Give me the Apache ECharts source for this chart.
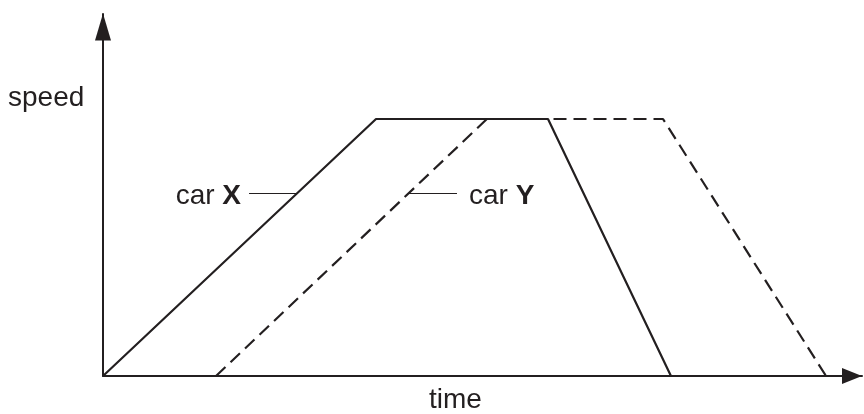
<!DOCTYPE html>
<html>
<head>
<meta charset="utf-8">
<script src="https://cdn.jsdelivr.net/npm/echarts@6/dist/echarts.min.js"></script>
<style>
  html, body { margin: 0; padding: 0; background: #fff; }
  #chart { width: 864px; height: 414px; }
</style>
</head>
<body>
<div id="chart"></div>
<script>
// time / speed in arbitrary units (graph has no scale)
var carXTime = [0, 35.97, 58.63, 74.83];
var carXSpeed = [0, 71.0, 71.0, 0];
var carYTime = [14.89, 50.59, 73.78, 95.26];
var carYSpeed = [0, 71.0, 71.0, 0];
// leader lines for the labels: [time start, time end, speed]
var leaderX = [19.24, 25.56, 50.55];
var leaderY = [40.18, 46.64, 50.55];

var ink = '#231f20';

var pairs = function (xs, ys) {
    var out = [];
    for (var i = 0; i < xs.length; i++) {
        out.push([xs[i], ys[i]]);
    }
    return out;
};

var leader = function (l, text, pos, gap) {
    return {
        silent: true,
        symbol: ['none', 'none'],
        lineStyle: { color: ink, width: 1, type: 'solid' },
        label: {
            show: true,
            position: pos,
            distance: gap,
            offset: [0, 3],
            formatter: text,
            color: ink,
            fontFamily: 'Liberation Sans',
            fontSize: 28,
            rich: {
                b: { fontWeight: 'bold', fontSize: 28, fontFamily: 'Liberation Sans', color: ink }
            }
        },
        data: [[{ coord: [l[0], l[2]] }, { coord: [l[1], l[2]] }]]
    };
};

var myChart = echarts.init(document.getElementById('chart'));
var option = {
    animation: false,
    grid: { left: 103, right: 2, top: 14, bottom: 38 },
    xAxis: {
        type: 'value',
        min: 0,
        max: 100,
        axisLine: {
            show: true,
            symbol: ['none', 'triangle'],
            symbolSize: [16, 20],
            symbolOffset: [0, -10],
            lineStyle: { color: ink, width: 2 }
        },
        axisTick: { show: false },
        axisLabel: { show: false },
        splitLine: { show: false }
    },
    yAxis: {
        type: 'value',
        min: 0,
        max: 100,
        axisLine: {
            show: true,
            symbol: ['none', 'triangle'],
            symbolSize: [16, 27],
            symbolOffset: [0, -13],
            lineStyle: { color: ink, width: 2 }
        },
        axisTick: { show: false },
        axisLabel: { show: false },
        splitLine: { show: false }
    },
    graphic: [
        {
            type: 'text', left: 8, top: 84,
            style: { text: 'speed', fill: ink, font: '28px "Liberation Sans"' }
        },
        {
            type: 'text', left: 429, top: 386,
            style: { text: 'time', fill: ink, font: '28px "Liberation Sans"' }
        }
    ],
    series: [
        {
            name: 'car X',
            type: 'line',
            data: pairs(carXTime, carXSpeed),
            showSymbol: false,
            lineStyle: { color: ink, width: 2.2 },
            markLine: leader(leaderX, 'car {b|X}', 'start', 8)
        },
        {
            name: 'car Y',
            type: 'line',
            data: pairs(carYTime, carYSpeed),
            showSymbol: false,
            lineStyle: { color: ink, width: 2.2, type: [13, 7] },
            markLine: leader(leaderY, 'car {b|Y}', 'end', 12)
        }
    ]
};
myChart.setOption(option);
</script>
</body>
</html>
